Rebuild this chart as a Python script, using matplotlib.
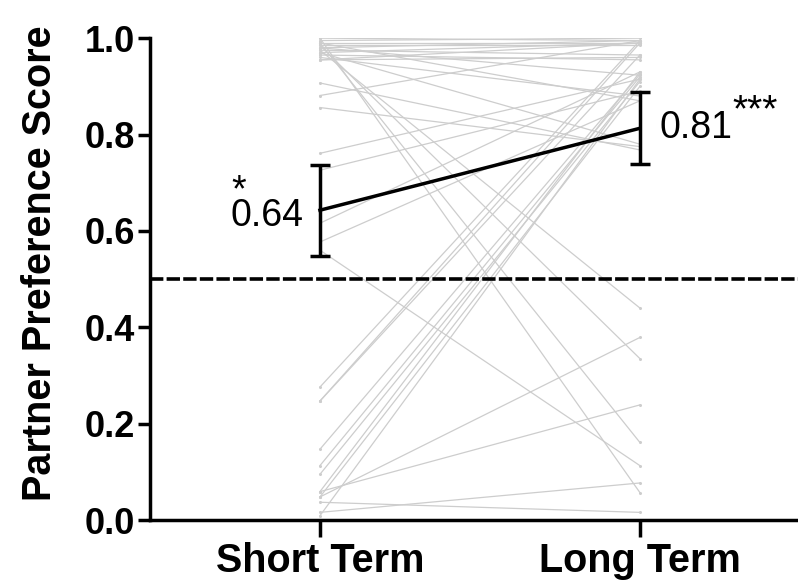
import matplotlib.pyplot as plt

plt.rcParams['font.family'] = ['Liberation Sans', 'DejaVu Sans']

# DATA
groups = ["Short Term", "Long Term"]

short_term = [1.000, 0.995, 0.990, 0.985, 0.980, 0.975, 0.970, 0.965, 0.960, 0.990,
              0.955, 0.955, 1.000, 0.990, 0.985, 0.975, 0.980, 0.970, 0.907, 0.881,
              0.856, 0.761, 0.726, 0.616, 0.577, 0.560, 0.276, 0.247, 0.247, 0.147,
              0.113, 0.095, 0.059, 0.059, 0.048, 0.048, 0.037, 0.016, 0.009]
long_term = [0.995, 1.000, 0.990, 0.985, 0.995, 0.965, 0.990, 0.955, 0.880, 0.870,
             0.990, 0.960, 0.057, 0.161, 0.335, 0.440, 0.923, 0.780, 0.768, 0.995,
             0.775, 0.915, 0.890, 0.930, 0.870, 0.113, 0.995, 0.990, 0.965, 0.925,
             0.920, 0.910, 0.930, 0.239, 0.379, 0.900, 0.016, 0.077, 0.915]

means = [0.643, 0.813]
err_low = [0.095, 0.074]
err_high = [0.093, 0.076]
mean_labels = ["0.64", "0.81"]
stars = ["*", "***"]
chance = 0.5

# FIGURE
fig = plt.figure(figsize=(7.98, 5.87), dpi=100)
ax = fig.add_axes([0.188, 0.114, 0.812, 0.821])

xpos = [0, 1]

# individual subjects
for s, l in zip(short_term, long_term):
    ax.plot(xpos, [s, l], color="#cdcdcd", lw=0.9, marker="o", ms=2.2,
            markeredgewidth=0, zorder=1)

# chance line
ax.axhline(chance, color="black", lw=2.6, dashes=(3.7, 0.9), zorder=2)

# mean +- error
ax.errorbar(xpos, means, yerr=[err_low, err_high], color="black", lw=2.5,
            elinewidth=2.5, capsize=7, capthick=2.5, zorder=3)

# labels next to the means (star stacked over the short-term value)
ax.text(-0.05, means[0] - 0.033, stars[0] + "\n" + mean_labels[0], ha="right",
        va="baseline", multialignment="left", linespacing=0.6, fontsize=27)
ax.text(1.06, means[1], mean_labels[1], ha="left", va="center", fontsize=27)
ax.text(1.36, means[1] + 0.035, stars[1], ha="center", va="center", fontsize=28)

ax.set_xlim(-0.531, 1.494)
ax.set_ylim(0, 1.0)
ax.set_xticks(xpos)
ax.set_xticklabels(groups, fontsize=28.5, fontweight="bold")
ax.set_yticks([0, 0.2, 0.4, 0.6, 0.8, 1.0])
ax.set_yticklabels(["0.0", "0.2", "0.4", "0.6", "0.8", "1.0"], fontsize=26,
                   fontweight="bold")
ax.set_ylabel("Partner Preference Score", fontsize=28.5, fontweight="bold",
              labelpad=18)
ax.yaxis.label.set_y(0.533)

for side in ["top", "right"]:
    ax.spines[side].set_visible(False)
for side in ["left", "bottom"]:
    ax.spines[side].set_linewidth(2.5)
ax.tick_params(axis="y", width=2.5, length=9, pad=2)
ax.tick_params(axis="x", width=2.5, length=12, pad=4)

fig.savefig("out.png", dpi=100)
